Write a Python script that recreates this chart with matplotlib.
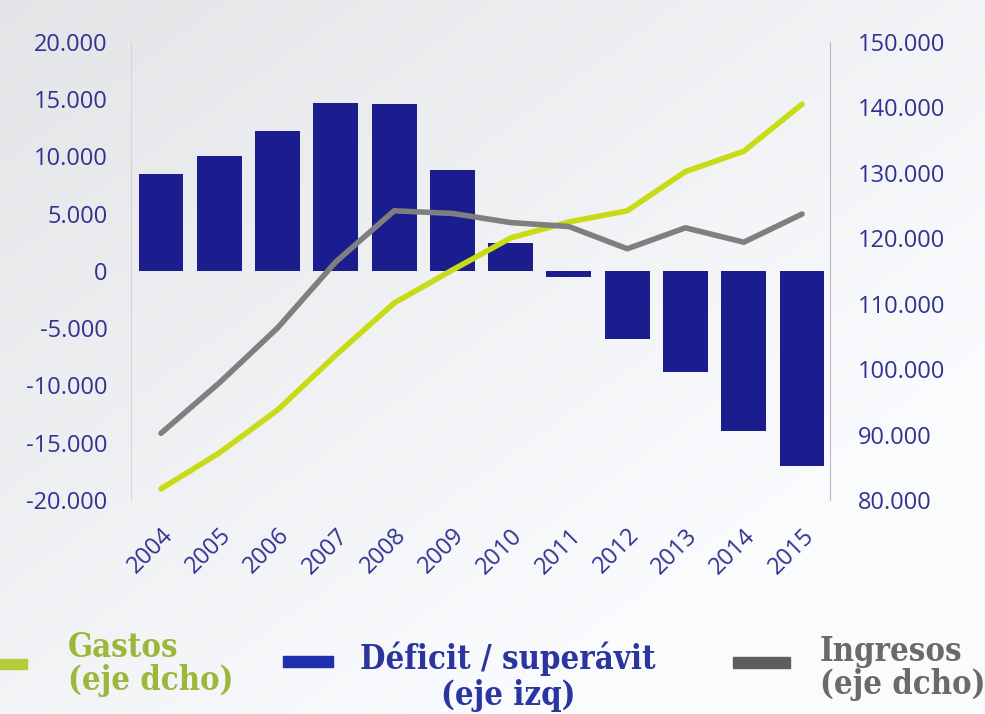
import numpy as np
import matplotlib
matplotlib.use("Agg")
import matplotlib.pyplot as plt
from matplotlib.patches import Rectangle

years = ["2004", "2005", "2006", "2007", "2008", "2009", "2010", "2011", "2012", "2013", "2014", "2015"]
deficit = [8500, 10000, 12200, 14700, 14600, 8800, 2450, -500, -5900, -8850, -14000, -17000]
gastos = [81700, 87200, 93750, 102150, 110100, 115150, 120050, 122500, 124200, 130200, 133300, 140500]
ingresos = [90200, 97900, 106300, 116400, 124200, 123800, 122400, 121800, 118400, 121600, 119400, 123700]

left_ticks = [-20000, -15000, -10000, -5000, 0, 5000, 10000, 15000, 20000]
right_ticks = [80000, 90000, 100000, 110000, 120000, 130000, 140000, 150000]

def fmt(v):
    return f"{v:,.0f}".replace(",", ".")

BAR = "#1b1c8e"
GREEN = "#c8dc16"
GRAY = "#7f7f7f"
TICK = "#2f3490"
TICKFONT = "Open Sans"

W, H = 985, 714
fig = plt.figure(figsize=(W / 100, H / 100), dpi=100)

# background gradient
bg = fig.add_axes([0, 0, 1, 1], zorder=-10)
yy, xx = np.mgrid[0:1:200j, 0:1:200j]
grad = 0.905 + 0.09 * np.clip((xx + yy) / 1.5, 0, 1)
bg.imshow(np.dstack([grad * 0.985, grad * 0.99, grad * 1.0, np.ones_like(grad)]).clip(0, 1),
          extent=[0, 1, 0, 1], aspect="auto", origin="upper")
bg.axis("off")

ax = fig.add_axes([131 / W, 1 - 500 / H, (830 - 131) / W, (500 - 42) / H])
ax.patch.set_alpha(0)
x = np.arange(len(years))
ax.bar(x, deficit, width=0.77, color=BAR, zorder=2)
ax.set_ylim(-20000, 20000)
ax.set_xlim(-0.515, len(years) - 0.52)
ax.set_yticks(left_ticks)
ax.set_yticklabels([fmt(v) for v in left_ticks], fontsize=17, color=TICK, family=TICKFONT)
ax.set_xticks(x)
ax.set_xticklabels(years, rotation=45, ha="right", rotation_mode="anchor",
                   fontsize=17, color=TICK, family=TICKFONT)
ax.tick_params(axis="both", length=0)
ax.tick_params(axis="y", pad=17)
ax.tick_params(axis="x", pad=17)
for s in ["top", "bottom"]:
    ax.spines[s].set_visible(False)
ax.spines["left"].set_color("#d4d4da")
ax.spines["right"].set_visible(False)

ax2 = ax.twinx()
ax2.plot(x, gastos, color=GREEN, lw=4, zorder=3, solid_capstyle="round")
ax2.plot(x, ingresos, color=GRAY, lw=4, zorder=3, solid_capstyle="round")
ax2.set_ylim(80000, 150000)
ax2.set_yticks(right_ticks)
ax2.set_yticklabels([fmt(v) for v in right_ticks], fontsize=17, color=TICK, family=TICKFONT)
ax2.tick_params(axis="y", length=0, pad=20)
for s in ["top", "bottom", "left"]:
    ax2.spines[s].set_visible(False)
ax2.spines["right"].set_color("#b8b8c0")

# legend
def fx(px):
    return px / W

def fy(py):
    return 1 - py / H

serif = dict(family="DejaVu Serif", stretch="condensed", weight="bold", fontsize=23.5)
fig.add_artist(Rectangle((fx(0), fy(669)), fx(27), 10 / H, color="#b5cc3a", transform=fig.transFigure))
fig.text(fx(68), fy(631), "Gastos\n(eje dcho)", color="#9cb83a", va="top", ha="left",
         linespacing=1.0, **serif)
fig.add_artist(Rectangle((fx(283), fy(667)), fx(50), 11 / H, color="#1f2fae", transform=fig.transFigure))
fig.text(fx(508), fy(642), "Déficit / superávit", color="#2a35a0", va="top", ha="center", **serif)
fig.text(fx(508), fy(712), "(eje izq)", color="#2a35a0", va="bottom", ha="center", **serif)
fig.add_artist(Rectangle((fx(733), fy(668)), fx(57), 11 / H, color="#5e5e5e", transform=fig.transFigure))
fig.text(fx(820), fy(635), "Ingresos\n(eje dcho)", color="#6a6a6a", va="top", ha="left",
         linespacing=1.0, **serif)

fig.savefig("out.png", dpi=100)
